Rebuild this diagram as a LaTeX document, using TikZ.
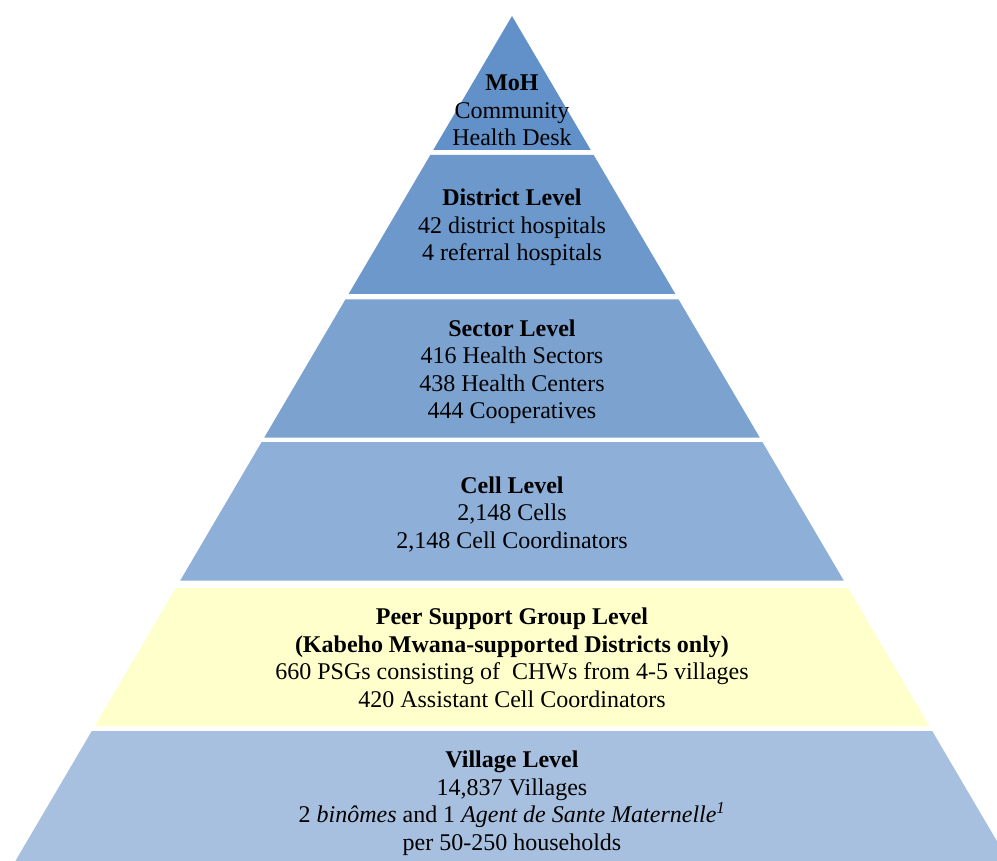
\documentclass[tikz,border=0pt]{standalone}
\usepackage{fontspec}
\setmainfont{Liberation Serif}
\definecolor{mohblue}{HTML}{6290C8}
\definecolor{distblue}{HTML}{6C98CB}
\definecolor{sectblue}{HTML}{7CA2D0}
\definecolor{cellblue}{HTML}{8DAFD8}
\definecolor{psgyellow}{HTML}{FFFFCC}
\definecolor{villblue}{HTML}{A8C0DF}
\tikzset{
  level/.style={align=center, anchor=base, inner sep=0pt,
    font=\fontsize{24}{27.5}\selectfont},
}
\newcommand{\xl}[1]{{512-0.5877*(#1-16)}}
\newcommand{\xr}[1]{{512+0.5877*(#1-16)}}
\begin{document}
\begin{tikzpicture}[x=1pt, y=-1pt]

    \useasboundingbox (0,0) rectangle (997,861);
	\begin{scope}
    \clip (0,0) rectangle (997,861);

    \fill[mohblue] (512,16) -- (\xr{150},150) -- (\xl{150},150) -- cycle;
    \foreach \yt/\yb/\col in {155/294/distblue, 299.5/437.5/sectblue,
        442/580.5/cellblue, 588/726/psgyellow, 731/880/villblue}
      \fill[\col] (\xl{\yt},\yt) -- (\xr{\yt},\yt) -- (\xr{\yb},\yb) -- (\xl{\yb},\yb) -- cycle;

    \end{scope}

    % anchor base sits on the last line
    \node[level] (moh) at (512,145.7) {\textbf{MoH}\\Community\\Health Desk};
    \node[level] (district) at (512,260.7) {\textbf{District Level}\\42 district hospitals\\4 referral hospitals};
    \node[level] (sector) at (512,418.5) {\textbf{Sector Level}\\416 Health Sectors\\438 Health Centers\\444 Cooperatives};
    \node[level] (cell) at (512,548) {\textbf{Cell Level}\\2,148 Cells\\2,148 Cell Coordinators};
    \node[level] (psg) at (512,707.3) {\textbf{Peer Support Group Level}\\\textbf{(Kabeho Mwana-supported Districts only)}\\660 PSGs consisting of~ CHWs from 4-5 villages\\420 Assistant Cell Coordinators};
    \node[level] (village) at (512,850) {\textbf{Village Level}\\14,837 Villages\\2 \textit{binômes} and 1 \textit{Agent de Sante Maternelle\textsuperscript{1}}\\per 50-250 households};

\end{tikzpicture}
\end{document}
